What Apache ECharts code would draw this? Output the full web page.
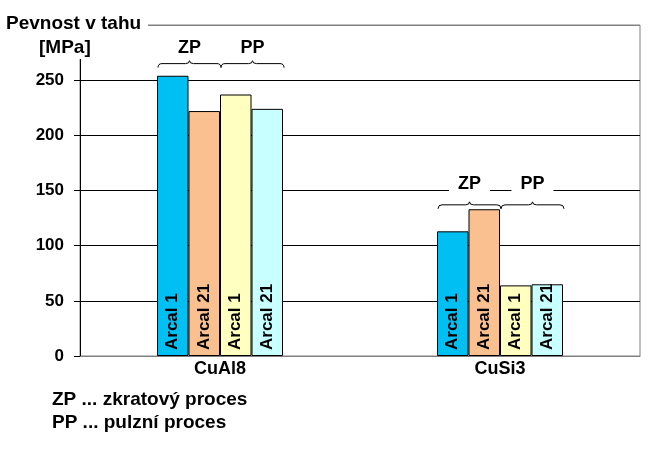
<!DOCTYPE html>
<html>
<head>
<meta charset="utf-8">
<script src="https://cdn.jsdelivr.net/npm/echarts@6/dist/echarts.min.js"></script>
<style>
html,body{margin:0;padding:0;background:#fff;}
#chart{width:658px;height:451px;}
</style>
</head>
<body>
<div id="chart"></div>
<script>
// ---- data ----
const categories = ['CuAl8', 'CuSi3'];
const seriesNames = ['ZP Arcal 1', 'ZP Arcal 21', 'PP Arcal 1', 'PP Arcal 21'];
const barLabels = ['Arcal 1', 'Arcal 21', 'Arcal 1', 'Arcal 21'];
const zpArcal1 = [254, 113];
const zpArcal21 = [222, 133];
const ppArcal1 = [237, 64];
const ppArcal21 = [224, 65];
const yTicks = [0, 50, 100, 150, 200, 250, 300];
const braceNames = ['ZP', 'PP'];
const braceLevel = [265, 137];      // brace height per category (MPa)
const braceLabelLevel = [279, 156]; // label height per category (MPa)
const legendLines = ['ZP ... zkratový proces', 'PP ... pulzní proces'];

const FONT = 'Arial, "Liberation Sans", sans-serif';
const colors = ['#00BFF3', '#FAC090', '#FFFFC0', '#C8FFFF'];
const valueSets = [zpArcal1, zpArcal21, ppArcal1, ppArcal21];

const CAT_GAP = 0.55;

const barSeries = valueSets.map((vals, i) => ({
  name: seriesNames[i],
  type: 'bar',
  data: vals,
  barGap: '0%',
  barCategoryGap: (CAT_GAP * 100) + '%',
  itemStyle: { color: colors[i], borderColor: '#000', borderWidth: 1 },
  label: {
    show: true,
    formatter: barLabels[i],
    position: 'insideBottom',
    rotate: 90,
    align: 'left',
    verticalAlign: 'middle',
    distance: 6,
    color: '#000',
    fontWeight: 'bold',
    fontSize: 17,
    fontFamily: FONT
  },
  emphasis: { disabled: true },
  z: 2
}));

// brace data rows: [categoryIndex, braceLevel, labelLevel, half]
const braceData = [];
categories.forEach((c, ci) => {
  braceNames.forEach((b, bi) => {
    braceData.push([ci, braceLevel[ci], braceLabelLevel[ci], bi]);
  });
});

const braceSeries = {
  type: 'custom',
  data: braceData,
  encode: { x: 0, y: 1 },
  clip: false,
  silent: true,
  z: 5,
  renderItem: function (params, api) {
    const ci = api.value(0);
    const lvl = api.value(1);
    const lab = api.value(2);
    const half = api.value(3);
    const base = api.coord([ci, lvl]);
    const labP = api.coord([ci, lab]);
    const band = api.size([1, 0])[0];
    const groupW = band * (1 - CAT_GAP);
    const barW = groupW / 4;
    const x1 = base[0] - groupW / 2 + half * 2 * barW + 1;
    const x2 = x1 + 2 * barW;
    const m = (x1 + x2) / 2;
    const y = base[1];
    const d = `M${x1},${y + 4} Q${x1},${y} ${x1 + 4},${y} L${m - 4},${y} Q${m},${y} ${m},${y - 3} Q${m},${y} ${m + 4},${y} L${x2 - 4},${y} Q${x2},${y} ${x2},${y + 4}`;
    return {
      type: 'group',
      children: [
        {
          type: 'path',
          shape: { pathData: d },
          style: { fill: null, stroke: '#000', lineWidth: 1 }
        },
        {
          type: 'text',
          style: {
            text: braceNames[half],
            x: m,
            y: labP[1],
            align: 'center',
            verticalAlign: 'middle',
            font: 'bold 18px ' + FONT,
            fill: '#000',
            backgroundColor: '#fff',
            padding: [3, 9, 3, 9]
          }
        }
      ]
    };
  }
};

const chart = echarts.init(document.getElementById('chart'), null, { renderer: 'canvas' });
chart.setOption({
  animation: false,
  backgroundColor: '#fff',
  title: [
    {
      text: 'Pevnost v tahu',
      left: 1, top: 11,
      padding: [2, 7, 2, 5],
      backgroundColor: '#fff',
      textStyle: { fontFamily: FONT, fontWeight: 'bold', fontSize: 19, color: '#000', lineHeight: 22 }
    },
    {
      text: '[MPa]',
      left: 35, top: 36,
      padding: [2, 4, 1, 4],
      backgroundColor: '#fff',
      textStyle: { fontFamily: FONT, fontWeight: 'bold', fontSize: 19, color: '#000', lineHeight: 20 }
    },
    {
      text: legendLines.join('\n'),
      left: 52, top: 388,
      padding: 0,
      textStyle: { fontFamily: FONT, fontWeight: 'bold', fontSize: 19, color: '#000', lineHeight: 23 }
    }
  ],
  grid: {
    left: 80, right: 18, top: 25, bottom: 95,
    show: true, borderColor: '#808080', borderWidth: 1, backgroundColor: 'transparent'
  },
  xAxis: {
    type: 'category',
    data: categories,
    axisLine: { show: true, lineStyle: { color: '#808080', width: 1 } },
    axisTick: { show: false },
    axisLabel: { color: '#000', fontFamily: FONT, fontWeight: 'bold', fontSize: 18, margin: 4 },
    splitLine: { show: false }
  },
  yAxis: {
    type: 'value',
    min: yTicks[0],
    max: yTicks[yTicks.length - 1],
    interval: yTicks[1] - yTicks[0],
    axisLine: { show: true, lineStyle: { color: '#000', width: 1 } },
    axisTick: { show: true, length: 6, lineStyle: { color: '#000' } },
    axisLabel: {
      color: '#000', fontFamily: FONT, fontWeight: 'bold', fontSize: 17, margin: 16,
      formatter: v => (v === yTicks[yTicks.length - 1] ? '' : String(v))
    },
    splitLine: { show: true, lineStyle: { color: ['#808080', '#000', '#000', '#000', '#000', '#000', '#808080'], width: 1 } }
  },
  series: barSeries.concat([braceSeries])
});
</script>
</body>
</html>
